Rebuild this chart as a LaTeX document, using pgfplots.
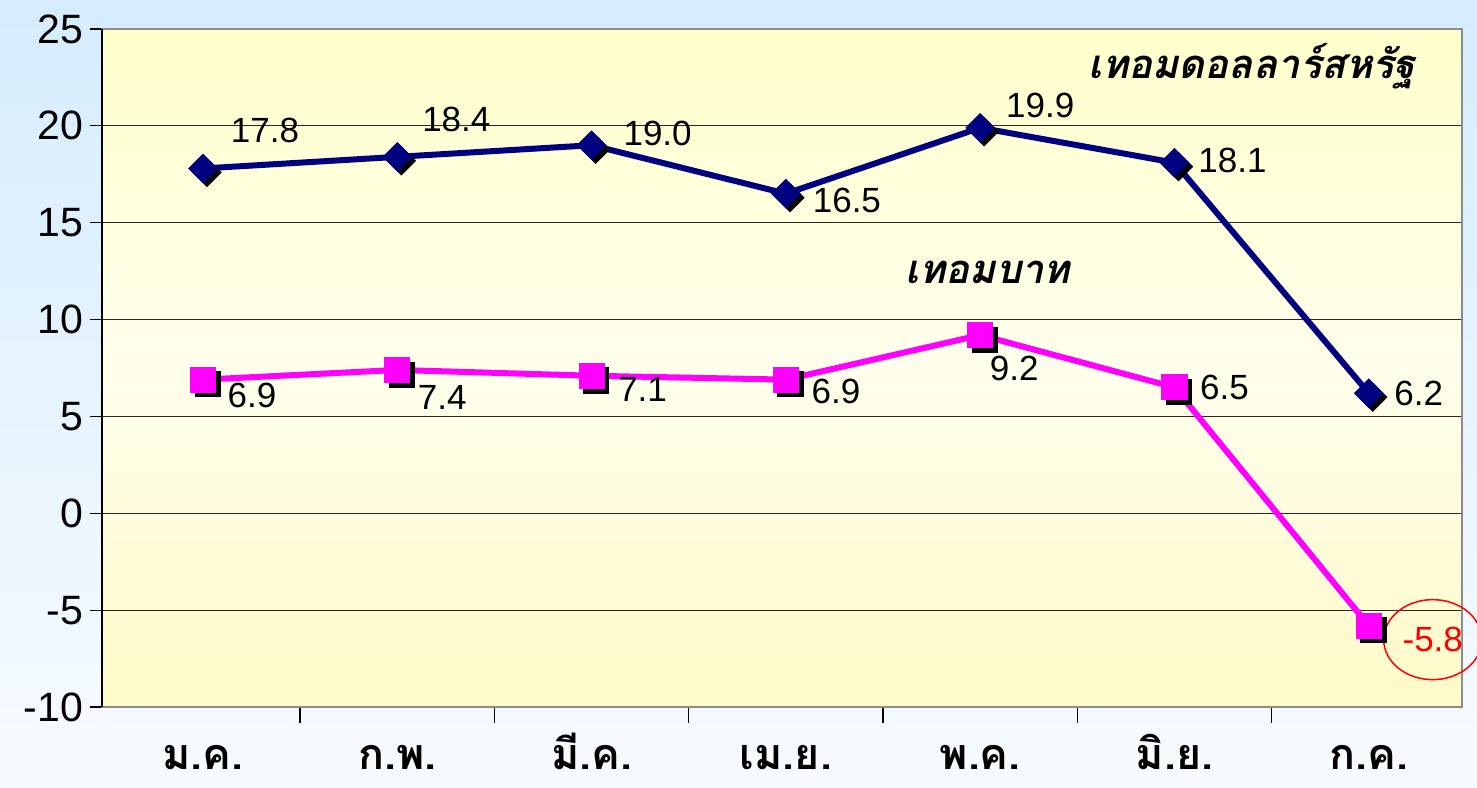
\documentclass[border=0pt]{standalone}
\usepackage{fontspec}
\setmainfont{Liberation Sans}
\newfontfamily\thaifont[Script=Thai]{Loma}
\usepackage{pgfplots}
\pgfplotsset{compat=1.18}
\usetikzlibrary{shapes.geometric}

\definecolor{bgtop}{RGB}{213,236,253}
\definecolor{bgbot}{RGB}{247,251,255}
\definecolor{pltop}{RGB}{255,255,204}
\definecolor{plmid}{RGB}{255,255,236}
\definecolor{plbot}{RGB}{255,250,200}
\definecolor{navyc}{RGB}{0,0,128}
\definecolor{magc}{RGB}{255,0,255}

\newcommand{\lab}[5]{\node[font=\fontsize{17.5}{20}\selectfont, xshift=#3pt, yshift=#4pt] at (axis cs:#1,#2) {#5};}

\pgfplotstableread{
x usd baht
0 17.8 6.9
1 18.4 7.4
2 19.0 7.1
3 16.5 6.9
4 19.9 9.2
5 18.1 6.5
6 6.2 -5.8
}\datatab

\begin{document}
\begin{tikzpicture}
\fill[top color=bgtop, bottom color=bgbot] (0,0) rectangle (738.5pt,393.5pt);
\path[use as bounding box] (0,0) rectangle (738.5pt,393.5pt);
\clip (0,0) rectangle (738.5pt,393.5pt);
\begin{axis}[
  at={(51pt,40pt)}, anchor=south west,
  scale only axis, width=680pt, height=339pt,
  xmin=-0.52, xmax=6.48, ymin=-10, ymax=25,
  clip=false,
  ytick={-10,-5,...,25},
  xtick={0,...,6},
  xticklabels={ม.ค.,ก.พ.,มี.ค.,เม.ย.,พ.ค.,มิ.ย.,ก.ค.},
  minor xtick={0.5,1.5,...,5.5},
  xtick pos=bottom, ytick pos=left,
  tick align=outside,
  major tick length=6pt, minor tick length=8pt,
  major x tick style={draw=none},
  minor x tick style={black, line width=0.75pt},
  ytick style={black, line width=0.6pt},
  ymajorgrids=true,
  major grid style={black!85, line width=0.5pt},
  axis line style={draw=black!45, line width=1.2pt},
  axis background/.style={top color=pltop, bottom color=plbot, middle color=plmid},
  /pgf/number format/assume math mode=true,
  yticklabel style={font=\fontsize{20.5}{24}\selectfont},
  xticklabel style={font=\thaifont\bfseries\fontsize{21.5}{24}\selectfont, anchor=base, yshift=-25.5pt},
]
% shadows
\addplot[only marks, mark=square*, mark size=5pt, mark options={xshift=2pt, yshift=-2pt, rotate=45, fill=black, draw=black}, forget plot] table[x=x, y=usd] {\datatab};
\addplot[navyc, line width=3pt, mark=square*, mark size=5pt, mark options={rotate=45, fill=navyc, draw=navyc, line width=0.5pt}] table[x=x, y=usd] {\datatab};
\addplot[only marks, mark=square*, mark size=6.3pt, mark options={xshift=2.3pt, yshift=-2.3pt, fill=black, draw=black, rounded corners=1pt}, forget plot] table[x=x, y=baht] {\datatab};
\addplot[magc, line width=3pt, mark=square*, mark size=6.3pt, mark options={fill=magc, draw=magc, line width=0.5pt, rounded corners=1pt}] table[x=x, y=baht] {\datatab};

\draw[black, line width=0.8pt] (rel axis cs:0,0) -- (rel axis cs:0,1);

\lab{0}{17.8}{31}{19}{17.8}
\lab{1}{18.4}{29.5}{18.5}{18.4}
\lab{2}{19.0}{33}{6}{19.0}
\lab{3}{16.5}{30.5}{-3.5}{16.5}
\lab{4}{19.9}{30}{11}{19.9}
\lab{5}{18.1}{29}{1}{18.1}
\lab{6}{6.2}{25}{0}{6.2}

\lab{0}{6.9}{24.5}{-8}{6.9}
\lab{1}{7.4}{22.5}{-14}{7.4}
\lab{2}{7.1}{25.5}{-7}{7.1}
\lab{3}{6.9}{25}{-6}{6.9}
\lab{4}{9.2}{17}{-16.5}{9.2}
\lab{5}{6.5}{25}{0}{6.5}
\node[draw=red, line width=0.75pt, ellipse, minimum width=49pt, minimum height=40pt, inner sep=0pt, text=red, font=\fontsize{17.5}{20}\selectfont, xshift=32pt, yshift=-7pt] at (axis cs:6,-5.8) {-5.8};

\node[font=\thaifont\bfseries\itshape\fontsize{20}{24}\selectfont] at (axis cs:5.40,23.08) {เทอมดอลลาร์สหรัฐ};
\node[font=\thaifont\bfseries\itshape\fontsize{20}{24}\selectfont] at (axis cs:4.04,12.44) {เทอมบาท};
\end{axis}
\end{tikzpicture}
\end{document}
